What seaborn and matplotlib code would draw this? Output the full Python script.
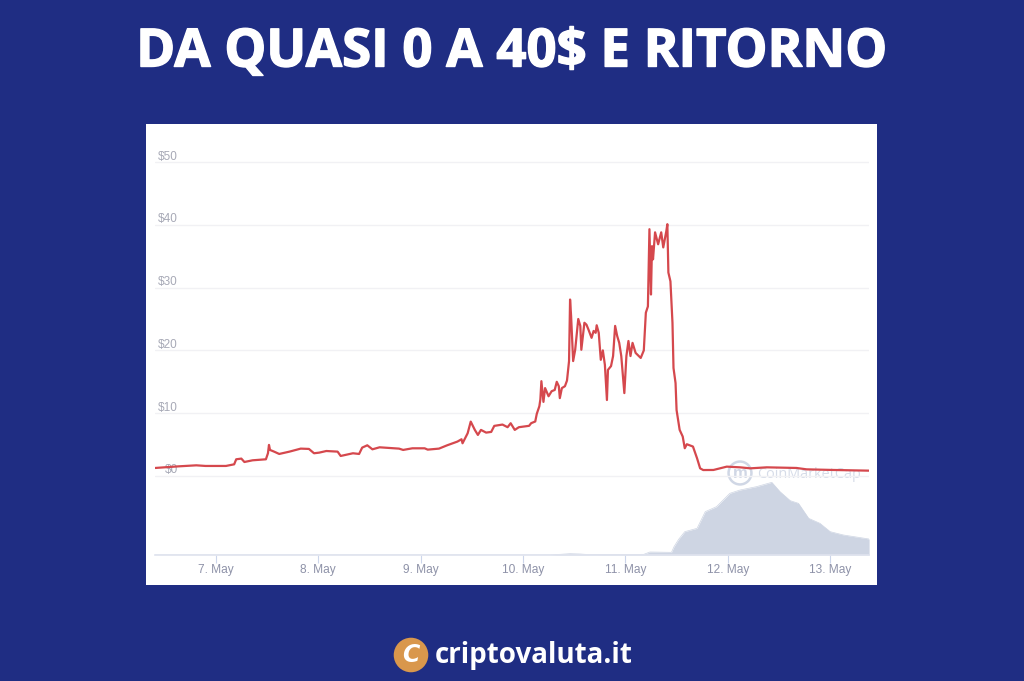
import matplotlib
matplotlib.use("Agg")
import matplotlib.pyplot as plt
import matplotlib.patheffects as pe
from matplotlib.patches import Rectangle, Circle
from matplotlib.transforms import ScaledTranslation
import pandas as pd
import seaborn as sns

TITLE = "DA QUASI 0 A 40$ E RITORNO"
BRAND = "criptovaluta.it"
WATERMARK = "CoinMarketCap"

price_day = [6.41, 6.64, 6.81, 6.90, 7.10, 7.18, 7.20, 7.25, 7.28, 7.36, 7.49, 7.51, 7.52, 7.53, 7.57, 7.62,
             7.72, 7.83, 7.91, 7.96, 8.01, 8.08, 8.19, 8.22, 8.34, 8.40, 8.43, 8.48, 8.53, 8.60, 8.79, 8.83,
             8.92, 9.04, 9.07, 9.18, 9.26, 9.36, 9.40, 9.41, 9.46, 9.49, 9.53, 9.56, 9.59, 9.64, 9.69, 9.72,
             9.80, 9.85, 9.88, 9.92, 9.96, 10.06, 10.08, 10.12, 10.135, 10.16, 10.17, 10.18, 10.20, 10.216,
             10.25, 10.28, 10.31, 10.33, 10.35, 10.36, 10.38, 10.41, 10.43, 10.45, 10.46, 10.47, 10.49, 10.51,
             10.54, 10.56, 10.57, 10.60, 10.62, 10.64, 10.67, 10.69, 10.71, 10.72, 10.74, 10.76, 10.78, 10.80,
             10.82, 10.83, 10.86, 10.88, 10.90, 10.92, 10.94, 10.96, 10.99, 11.01, 11.03, 11.05, 11.07, 11.10,
             11.15, 11.18, 11.20, 11.22, 11.235, 11.25, 11.26, 11.27, 11.29, 11.32, 11.35, 11.37, 11.40, 11.41,
             11.42, 11.44, 11.46, 11.47, 11.49, 11.50, 11.53, 11.56, 11.58, 11.60, 11.66, 11.70, 11.73, 11.76,
             11.86, 11.99, 12.12, 12.22, 12.38, 12.67, 12.77, 13.03, 13.38]
price_usd = [1.28, 1.54, 1.70, 1.60, 1.60, 1.86, 2.66, 2.77, 2.23, 2.50, 2.66, 3.62, 4.95, 4.15, 3.88, 3.51,
             3.88, 4.36, 4.31, 3.62, 3.72, 3.98, 3.88, 3.19, 3.62, 3.51, 4.52, 4.89, 4.25, 4.57, 4.36, 4.15,
             4.41, 4.41, 4.20, 4.36, 4.89, 5.48, 5.85, 5.21, 6.81, 8.66, 7.34, 6.54, 7.34, 6.91, 7.02, 7.98,
             8.19, 7.77, 8.40, 7.34, 7.77, 7.99, 8.41, 8.68, 9.90, 11.1, 12.2, 15.1, 11.8, 14.0,
             12.7, 13.5, 13.7, 15.0, 14.3, 12.4, 14.0, 14.3, 15.2, 18.3, 28.1, 25.5, 18.3, 20.1,
             25.0, 23.9, 20.1, 24.4, 24.1, 23.3, 22.0, 23.1, 22.8, 24.0, 22.8, 18.5, 20.0, 17.7,
             12.1, 16.9, 17.5, 19.1, 23.9, 22.3, 21.2, 19.1, 13.2, 19.1, 21.5, 19.1, 21.2, 19.6,
             18.8, 20.0, 26.0, 27.0, 39.3, 28.9, 36.6, 34.5, 38.8, 36.9, 38.8, 36.4, 39.0, 40.1,
             32.4, 31.0, 24.4, 17.2, 14.8, 10.5, 7.35, 6.28, 4.42, 5.06, 4.69, 2.82, 1.22, 0.95,
             0.96, 1.49, 1.38, 1.22, 1.38, 1.28, 1.06, 0.96, 0.85]

volume_day = [6.41, 10.265, 10.46, 10.56, 10.655, 11.18, 11.24, 11.45, 11.475, 11.52, 11.58, 11.70, 11.78,
              11.89, 12.02, 12.12, 12.28, 12.43, 12.51, 12.61, 12.69, 12.79, 12.90, 13.0, 13.13, 13.38]
volume_rel = [0, 0, 4, 3, 1, 2, 9, 8, 25, 47, 70, 80, 130,
              145, 185, 195, 205, 218, 190, 163, 155, 110, 95, 70, 60, 48]

y_ticks = [0, 10, 20, 30, 40, 50]
y_labels = ["$0", "$10", "$20", "$30", "$40", "$50"]
x_ticks = [7, 8, 9, 10, 11, 12, 13]
x_labels = ["7. May", "8. May", "9. May", "10. May", "11. May", "12. May", "13. May"]

NAVY = "#1f2d83"
W, H = 1024, 681

sns.set_theme(style="white")
plt.rcParams["font.family"] = ["Liberation Sans", "DejaVu Sans"]
plt.rcParams["text.parse_math"] = False

fig = plt.figure(figsize=(W / 100, H / 100), dpi=100, facecolor=NAVY)


def fx(px):
    return px / W


def fy(py):
    return 1 - py / H


fig.add_artist(Rectangle((fx(146), fy(585)), 731 / W, 461 / H, transform=fig.transFigure,
                         facecolor="white", edgecolor="none", zorder=0))

ax = fig.add_axes([fx(155), fy(555), 714 / W, 420 / H], facecolor="none", zorder=2)
vol_ax = fig.add_axes([fx(155), fy(555), 714 / W, 420 / H], facecolor="none", zorder=1)

# volume
vol = pd.DataFrame({"day": volume_day, "volume": volume_rel})
sns.lineplot(data=vol, x="day", y="volume", ax=vol_ax, color="#ced5e3", linewidth=0.5, estimator=None)
vol_ax.fill_between(vol["day"], vol["volume"], 0, color="#ced5e3", linewidth=0)
vol_ax.set_xlim(6.407, 13.379)
vol_ax.set_ylim(0, 1260)
vol_ax.axis("off")

# watermark
fig.text(fx(757), fy(474), WATERMARK, color="#d6dce8", fontsize=10.4, ha="left", va="center",
         family="Open Sans", zorder=1.5)
logo = fig.add_axes([fx(727), fy(486), 26 / W, 26 / H], facecolor="none", zorder=1.5)
logo.add_patch(Circle((0.5, 0.5), 0.44, facecolor="none", edgecolor="#d0d7e5", linewidth=1.8))
logo.text(0.5, 0.5, "m", color="#d0d7e5", fontsize=12, ha="center", va="center", weight="bold")
logo.set_xlim(0, 1)
logo.set_ylim(0, 1)
logo.axis("off")

# price
prices = pd.DataFrame({"day": price_day, "price": price_usd})
sns.lineplot(data=prices, x="day", y="price", ax=ax, color="#d5484d", linewidth=1.6,
             estimator=None, zorder=3)
ax.set_xlim(6.407, 13.379)
ax.set_ylim(-12.58, 54.3)
ax.set_xlabel("")
ax.set_ylabel("")

ax.set_yticks(y_ticks)
ax.set_yticklabels(y_labels)
ax.set_xticks(x_ticks)
ax.set_xticklabels(x_labels)
ax.grid(axis="y", color="#f1f1f4", linewidth=1.0, zorder=0)
ax.tick_params(axis="y", length=0, pad=-16.6, labelsize=8.5, labelcolor="#a7a9b6")
ax.tick_params(axis="x", length=5.8, width=0.8, color="#ccd6eb", pad=1, labelsize=8.6, labelcolor="#8e92a8",
               bottom=True)
shift = ScaledTranslation(0, 7 / 100, fig.dpi_scale_trans)
for lab in ax.get_yticklabels():
    lab.set_transform(lab.get_transform() + shift)
    lab.set_zorder(1)
for name in ("top", "left", "right"):
    ax.spines[name].set_visible(False)
ax.spines["bottom"].set_color("#dfe3ee")
ax.spines["bottom"].set_linewidth(1.2)

# title and footer
title = fig.text(fx(512), fy(66.5), TITLE, color="white", fontsize=38, weight="bold", family="Open Sans",
                 ha="center", va="baseline")
title.set_path_effects([pe.withStroke(linewidth=1.0, foreground="white")])
badge = fig.add_axes([fx(393), fy(673), 36 / W, 36 / H], facecolor="none")
badge.add_patch(Circle((0.5, 0.5), 0.48, facecolor="#d9974c", edgecolor="none"))
badge.text(0.5, 0.49, "C", color="white", fontsize=17, weight="bold", style="italic", ha="center", va="center",
           family="DejaVu Sans")
badge.set_xlim(0, 1)
badge.set_ylim(0, 1)
badge.axis("off")
fig.text(fx(435), fy(663), BRAND, color="white", fontsize=20, weight="bold", family="Open Sans",
         ha="left", va="baseline")

fig.savefig("out.png", dpi=100, facecolor=NAVY)
